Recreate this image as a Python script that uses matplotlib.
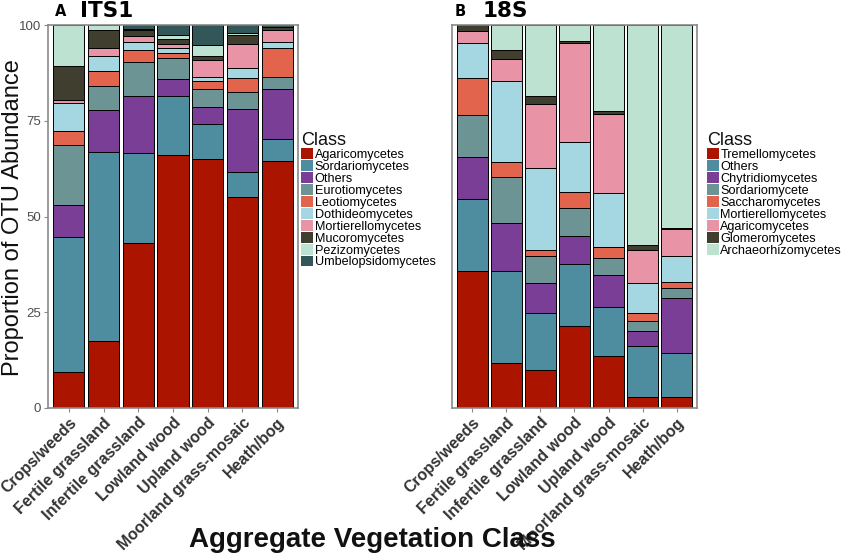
import numpy as np
import matplotlib
matplotlib.use("Agg")
import matplotlib.pyplot as plt

plt.rcParams['font.family'] = ['Liberation Sans', 'DejaVu Sans']

sites = ['Crops/weeds', 'Fertile grassland', 'Infertile grassland', 'Lowland wood',
         'Upland wood', 'Moorland grass-mosaic', 'Heath/bog']

# ITS1: cumulative tops (bottom class first)
its_classes = ['Agaricomycetes', 'Sordariomycetes', 'Others', 'Eurotiomycetes',
               'Leotiomycetes', 'Dothideomycetes', 'Mortierellomycetes',
               'Mucoromycetes', 'Pezizomycetes', 'Umbelopsidomycetes']
its_colors = ['#AB1500', '#4E8CA0', '#7B3E96', '#6C9494', '#E2644C',
              '#A4D7E2', '#E993A6', '#403E2E', '#BEE2D2', '#335658']
its_tops = np.array([
    [9.3, 44.6, 52.9, 68.7, 72.4, 79.6, 80.5, 89.3, 100.0, 100.0],
    [17.5, 66.9, 77.8, 84.1, 88.1, 91.9, 93.9, 98.7, 100.0, 100.0],
    [43.2, 66.7, 81.5, 90.3, 93.5, 95.6, 97.1, 98.8, 99.0, 100.0],
    [66.1, 81.5, 85.9, 91.3, 92.6, 94.1, 95.0, 96.3, 97.4, 100.0],
    [64.9, 74.1, 78.7, 83.3, 85.4, 86.3, 90.9, 91.8, 94.9, 100.0],
    [55.2, 61.7, 78.0, 82.5, 86.1, 88.7, 95.0, 97.4, 97.9, 100.0],
    [64.5, 70.2, 83.2, 86.5, 93.9, 95.6, 98.7, 99.6, 99.6, 100.0],
])

# 18S
s18_classes = ['Tremellomycetes', 'Others', 'Chytridiomycetes', 'Sordariomycete',
               'Saccharomycetes', 'Mortierellomycetes', 'Agaricomycetes',
               'Glomeromycetes', 'Archaeorhizomycetes']
s18_colors = ['#AB1500', '#4E8CA0', '#7B3E96', '#6C9494', '#E2644C',
              '#A4D7E2', '#E993A6', '#403E2E', '#BEE2D2']
s18_tops = np.array([
    [35.9, 54.5, 65.6, 76.6, 86.2, 95.4, 98.5, 100.0, 100.0],
    [11.8, 35.9, 48.2, 60.2, 64.3, 85.4, 91.0, 93.6, 100.0],
    [9.9, 24.9, 32.6, 39.7, 41.3, 62.7, 79.3, 81.5, 100.0],
    [21.5, 37.5, 44.9, 52.1, 56.5, 69.4, 95.4, 95.8, 100.0],
    [13.6, 26.3, 34.7, 39.1, 42.1, 56.1, 76.7, 77.5, 100.0],
    [3.0, 16.2, 20.2, 22.8, 24.9, 32.6, 41.3, 42.6, 100.0],
    [2.8, 14.4, 28.6, 31.3, 33.0, 39.7, 46.7, 47.1, 100.0],
])

W, H = 845, 559
fig = plt.figure(figsize=(W / 100, H / 100), dpi=100)
ax1 = fig.add_axes([48 / W, 1 - 408 / H, 250 / W, 383 / H])
ax2 = fig.add_axes([452 / W, 1 - 408 / H, 245 / W, 383 / H])


def stacked(ax, tops, classes, colors, leg_x):
    x = np.arange(1, len(sites) + 1)
    vals = np.diff(np.hstack([np.zeros((len(sites), 1)), tops]), axis=1)
    bottom = np.zeros(len(sites))
    handles = []
    for i, c in enumerate(classes):
        b = ax.bar(x, vals[:, i], bottom=bottom, width=0.9, color=colors[i],
                   edgecolor='black', linewidth=0.7, label=c)
        handles.append(b)
        bottom = bottom + vals[:, i]
    ax.set_xlim(0.4, len(sites) + 0.6)
    ax.set_ylim(0, 100)
    ax.set_xticks(x)
    ax.set_xticklabels(sites, rotation=45, ha='right', rotation_mode='anchor',
                       fontsize=11.5, fontweight='bold', color='#333333')
    for s in ax.spines.values():
        s.set_color('#8a8a8a')
        s.set_linewidth(1.2)
    ax.tick_params(axis='both', color='#8a8a8a', length=3, width=0.8, pad=2)
    leg = ax.legend(handles=handles, labels=classes, loc='upper left',
                    bbox_to_anchor=(leg_x, 0.72), frameon=False, fontsize=9.1,
                    title='Class', title_fontsize=13, handlelength=0.95,
                    handleheight=0.92, labelspacing=-0.06, handletextpad=0.12,
                    borderpad=0, borderaxespad=0, alignment='left')
    leg.get_title().set_color('#111111')
    for h in leg.legend_handles:
        h.set_linewidth(0)
    return leg


stacked(ax1, its_tops, its_classes, its_colors, 1.012)
stacked(ax2, s18_tops, s18_classes, s18_colors, 1.04)

ax1.set_yticks([0, 25, 50, 75, 100])
ax1.set_yticklabels(['0', '25', '50', '75', '100'], fontsize=9.5, color='#4d4d4d')
ax2.set_yticks([])

fig.text(13 / W, 1 - 218 / H, 'Proportion of OTU Abundance', fontsize=17,
         rotation=90, ha='center', va='center', color='#111111')

fig.text(55 / W, 1 - 11 / H, 'A', fontsize=10.5, fontweight='bold',
         family='DejaVu Sans', va='center')
fig.text(80 / W, 1 - 11 / H, 'ITS1', fontsize=15.5, fontweight='bold',
         family='DejaVu Sans', va='center')
fig.text(455 / W, 1 - 11 / H, 'B', fontsize=10.5, fontweight='bold',
         family='DejaVu Sans', va='center')
fig.text(483 / W, 1 - 11 / H, '18S', fontsize=15.5, fontweight='bold',
         family='DejaVu Sans', va='center')

fig.text(372 / W, 1 - 540 / H, 'Aggregate Vegetation Class', fontsize=20,
         fontweight='bold', ha='center', va='center', color='#111111')

fig.savefig('out.png', dpi=100)
